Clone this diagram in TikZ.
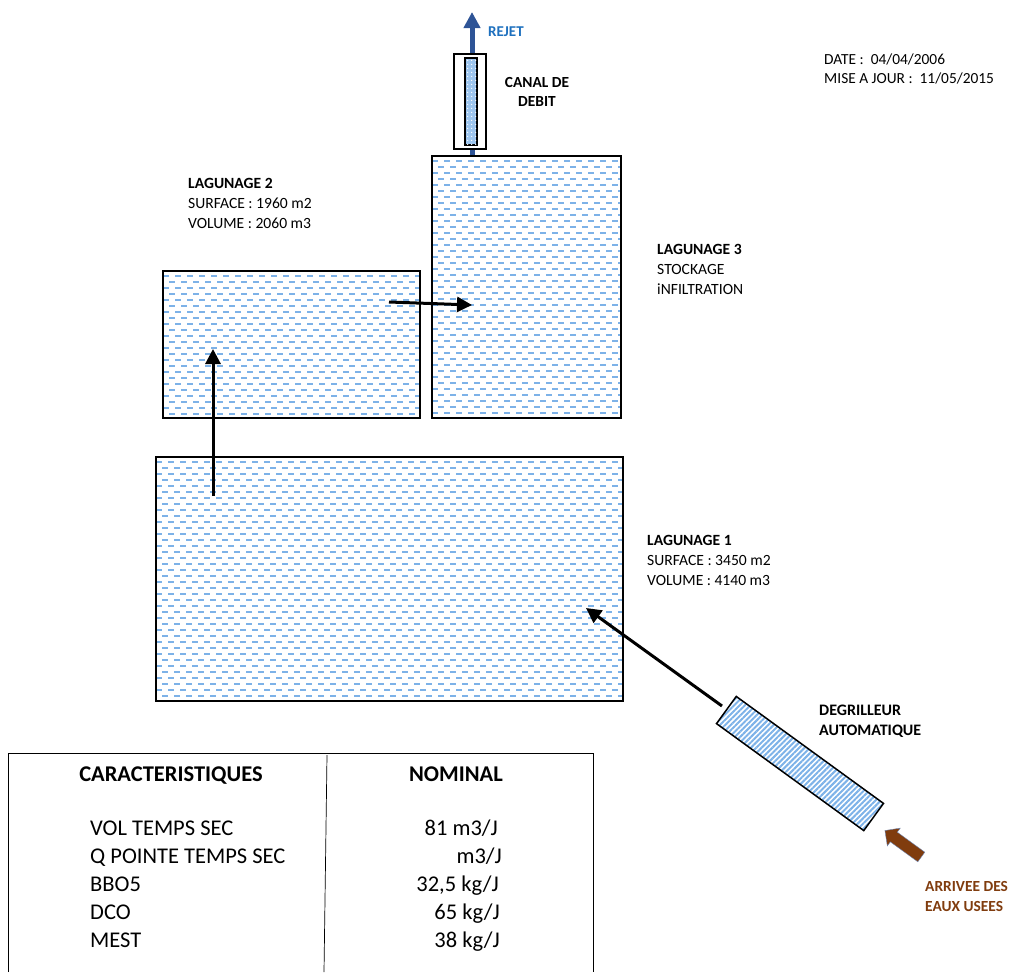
\documentclass[tikz,border=0pt]{standalone}
\usepackage{fontspec}
\setmainfont{Carlito}
\usetikzlibrary{arrows.meta,patterns.meta,positioning,shapes.arrows}
\definecolor{waterblue}{RGB}{125,178,232}
\definecolor{rejetblue}{RGB}{46,84,150}
\definecolor{labelblue}{RGB}{30,112,190}
\definecolor{brownflow}{RGB}{128,60,14}
\tikzset{
  lagoon/.style={draw,line width=1.5pt,rectangle,inner sep=0pt,path picture={
    \foreach \row in {0,...,44}{
      \pgfmathsetmacro{\shift}{mod(\row,2)*6}
      \draw[waterblue,line width=1.2pt,dash pattern=on 6pt off 6pt,dash phase=\shift pt]
        ([yshift=-5pt-\row*6pt]path picture bounding box.north west) --
        ([yshift=-5pt-\row*6pt]path picture bounding box.north east);
    }}},
  flow/.style={-{Triangle[length=15pt,width=15pt]},line width=3pt,black},
  infotext/.style={align=left,anchor=north west,font=\fontsize{15.6}{20}\selectfont,inner sep=0pt},
  tabletext/.style={font=\fontsize{22.5}{26}\selectfont,inner sep=0pt},
  tablerule/.style={line width=0.7pt}
}
\begin{document}
\begin{tikzpicture}[x=1pt,y=-1pt]
  \useasboundingbox (0,0) rectangle (1011,972);
  % lagoons
  \node[lagoon,minimum width=467pt,minimum height=244pt] (lag1) at (389.5,579) {};
  \node[lagoon,minimum width=257pt,minimum height=147pt] (lag2) at (291.5,344.5) {};
  \node[lagoon,minimum width=189pt,minimum height=262pt] (lag3) at (526.5,287) {};
  % canal
  \coordinate (rejet) at (472,12);
  \draw[-{Triangle[length=16pt,width=16pt]},line width=5pt,rejetblue] (lag3.north -| rejet) -- (rejet);
  \node[draw,line width=1.5pt,fill=white,minimum width=32pt,minimum height=95pt,inner sep=0pt] (canal) at (470,101.5) {};
  \node[draw,line width=1.5pt,inner sep=0pt,minimum width=12pt,minimum height=87pt,fill=waterblue!75,
    postaction={pattern={Dots[distance=4pt,radius=0.8pt]},pattern color=white}] (canalin) at (471,101.5) {};
  % degrilleur
  \node[draw,line width=1.5pt,rotate=-36,minimum width=182pt,minimum height=33.6pt,inner sep=0pt,
    pattern={Lines[angle=45,distance=3.8pt,line width=2pt]},pattern color=waterblue] (degril) at (800,763.5) {};
  \node[single arrow,draw=rejetblue!70,fill=brownflow,rotate=144,minimum height=45pt,minimum width=22pt,
    single arrow head extend=5pt,inner sep=5.7pt,single arrow tip angle=90] (arrivee) at (905.5,845.5) {};
  % flows
  \coordinate (p1) at (213,496);
  \coordinate (p2) at (213,349);
  \coordinate (p3) at (389,302);
  \coordinate (p4) at (472,305);
  \coordinate (p5) at (722,706);
  \coordinate (p6) at (586,608);
  \draw[flow] (p1) -- (p2);
  \draw[flow] (p3) -- (p4);
  \draw[flow] (p5) -- (p6);
  % labels
  \node[font=\fontsize{15}{15}\selectfont\bfseries,text=labelblue,anchor=west,inner sep=0pt] (lblrejet) at (488,32) {REJET};
  \node[font=\fontsize{15.4}{19}\selectfont\bfseries,align=center,inner sep=0pt] (lblcanal) at (537,92) {CANAL DE\\DEBIT};
  \node[infotext,font=\fontsize{15.4}{19}\selectfont] (lbldate) at (824,53.5) {DATE :\ \ 04/04/2006\\MISE A JOUR :\ \ 11/05/2015};
  \node[infotext] (lbl2) at (188,178.5) {\textbf{LAGUNAGE 2}\\SURFACE : 1960 m2\\VOLUME : 2060 m3};
  \node[infotext] (lbl3) at (657,244) {\textbf{LAGUNAGE 3}\\STOCKAGE\\iNFILTRATION};
  \node[infotext] (lbl1) at (647,535.5) {\textbf{LAGUNAGE 1}\\SURFACE : 3450 m2\\VOLUME : 4140 m3};
  \node[infotext,font=\fontsize{16}{19.5}\selectfont\bfseries] (lbldeg) at (819,705) {DEGRILLEUR\\AUTOMATIQUE};
  \node[infotext,font=\fontsize{15.4}{20}\selectfont\bfseries,text=brownflow] (lblarr) at (925,881) {ARRIVEE DES\\EAUX USEES};
  % table
  \coordinate (tl) at (8,753);
  \coordinate (tr) at (593,753);
  \coordinate (bl) at (8,972);
  \coordinate (br) at (593,972);
  \coordinate (mt) at (327,755);
  \coordinate (mb) at (324,972);
  \draw[tablerule] (bl) -- (tl) -- (tr) -- (br);
  \draw[tablerule] (mt) -- (mb);
  \node[tabletext,font=\fontsize{22.5}{26}\selectfont\bfseries,anchor=base] (tcar) at (171,781) {CARACTERISTIQUES};
  \node[tabletext,font=\fontsize{22.5}{26}\selectfont\bfseries,anchor=base] (tnom) at (456,781) {NOMINAL};
  \foreach \name/\val/\ypos/\xr in {VOL TEMPS SEC/81 m3\slash J/835/498,Q POINTE TEMPS SEC/m3\slash J/863/502,BBO5/{32,5 kg\slash J}/891/499,DCO/65 kg\slash J/919/500,MEST/38 kg\slash J/947/500}{
    \node[tabletext,anchor=base west] at (90,\ypos) {\name};
    \node[tabletext,anchor=base east] at (\xr,\ypos) {\val};
  }
\end{tikzpicture}
\end{document}
